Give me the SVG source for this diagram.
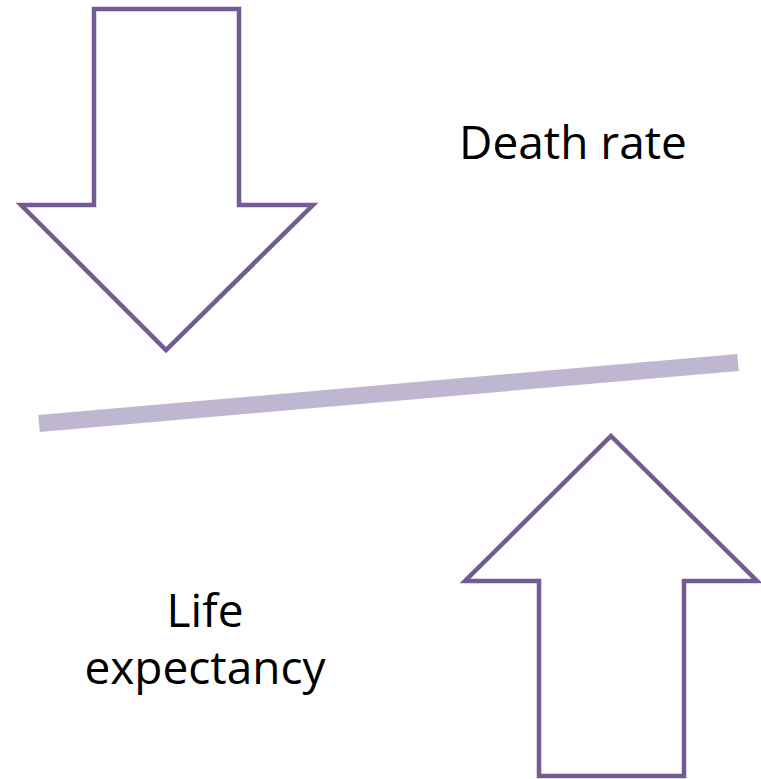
<svg xmlns="http://www.w3.org/2000/svg" width="761" height="779" viewBox="0 0 761 779">
<style>
.arrow{fill:#fff;stroke:#735C96;stroke-width:4.5;stroke-linejoin:miter}
.lbl{font-family:"Open Sans","Liberation Sans",sans-serif;font-size:46px;fill:#000;text-anchor:middle}
</style>
<rect width="761" height="779" fill="#fff"/>
<g id="connectors">
<line x1="39" y1="423.5" x2="738" y2="362.5" stroke="#BFB7D0" stroke-width="17"/>
</g>
<g id="down-arrow">
<polygon class="arrow" points="94,9 239,9 239,205 313,205 166,350 21,205 94,205"/>
</g>
<g id="up-arrow">
<polygon class="arrow" points="611,436 757,581 684,581 684,776 539,776 539,581 465,581"/>
</g>
<g id="death-rate">
<text class="lbl" x="573" y="159">Death rate</text>
</g>
<g id="life-expectancy">
<text class="lbl" x="205" y="627">Life</text>
<text class="lbl" x="205" y="684">expectancy</text>
</g>
</svg>
